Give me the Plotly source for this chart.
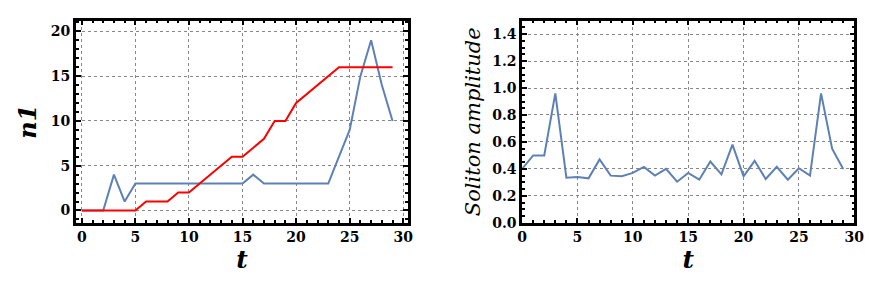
import plotly.graph_objects as go

t = list(range(30))
n1_blue = [0, 0, 0, 4, 1, 3, 3, 3, 3, 3, 3, 3, 3, 3, 3, 3, 4, 3, 3, 3, 3, 3, 3, 3, 6, 9, 15, 19, 14, 10]
n1_red = [0, 0, 0, 0, 0, 0, 1, 1, 1, 2, 2, 3, 4, 5, 6, 6, 7, 8, 10, 10, 12, 13, 14, 15, 16, 16, 16, 16, 16, 16]
amplitude = [0.40, 0.50, 0.50, 0.96, 0.335, 0.34, 0.33, 0.47, 0.35, 0.345, 0.37, 0.415, 0.35, 0.40, 0.305,
             0.37, 0.32, 0.455, 0.36, 0.58, 0.345, 0.46, 0.325, 0.415, 0.32, 0.405, 0.35, 0.96, 0.55, 0.40]
x_ticks = [0, 5, 10, 15, 20, 25, 30]
y1_ticks = [0, 5, 10, 15, 20]
y2_ticks = [0.0, 0.2, 0.4, 0.6, 0.8, 1.0, 1.2, 1.4]

BLUE = "#5E81B5"
RED = "#FF0000"
FONT = "DejaVu Serif"

fig = go.Figure()
fig.add_trace(go.Scatter(x=t, y=n1_blue, mode="lines", line=dict(color=BLUE, width=2), xaxis="x", yaxis="y"))
fig.add_trace(go.Scatter(x=t, y=n1_red, mode="lines", line=dict(color=RED, width=2), xaxis="x", yaxis="y"))
fig.add_trace(go.Scatter(x=t, y=amplitude, mode="lines", line=dict(color=BLUE, width=2), xaxis="x2", yaxis="y2"))

tickfont = dict(family=FONT, size=14, color="black", weight="bold")
t_title = dict(family=FONT, size=25, color="black", style="italic", weight="bold")
n_title = dict(family=FONT, size=24, color="black", style="italic", weight="bold")
amp_title = dict(family=FONT, size=21, color="black", style="italic")

minor_ticks = dict(ticks="inside", ticklen=3, tickwidth=1.5, tickcolor="black", showgrid=False)

common = dict(
    showline=True, linecolor="black", linewidth=2.5, mirror="allticks",
    ticks="inside", ticklen=5, tickwidth=2, tickcolor="black",
    showgrid=True, gridcolor="#888888", griddash="dot", gridwidth=1,
    zeroline=False, tickfont=tickfont,
)

fig.update_layout(
    width=872, height=286,
    margin=dict(l=0, r=0, t=0, b=0),
    paper_bgcolor="white", plot_bgcolor="white",
    showlegend=False,
    xaxis=dict(domain=[64/872, 402/872], anchor="y", range=[-0.55, 30.45],
               tickvals=x_ticks, ticktext=[str(v) for v in x_ticks],
               minor=dict(dtick=1, tick0=0, **minor_ticks),
               title=dict(text="t", font=t_title, standoff=0), **common),
    yaxis=dict(domain=[1-221/286, 1-13/286], anchor="x", range=[-1.38, 21.2],
               tickvals=y1_ticks, ticktext=[str(v) for v in y1_ticks],
               minor=dict(dtick=1, tick0=0, **minor_ticks),
               title=dict(text="n1", font=n_title, standoff=8), **common),
    xaxis2=dict(domain=[518/872, 856/872], anchor="y2", range=[0, 30],
                tickvals=x_ticks, ticktext=[str(v) for v in x_ticks],
                minor=dict(dtick=1, tick0=0, **minor_ticks),
                title=dict(text="t", font=t_title, standoff=0), **common),
    yaxis2=dict(domain=[1-221/286, 1-13/286], anchor="x2", range=[0, 1.5],
                tickvals=y2_ticks, ticktext=[f"{v:.1f}" for v in y2_ticks],
                minor=dict(dtick=0.05, tick0=0, **minor_ticks),
                title=dict(text="Soliton amplitude", font=amp_title, standoff=6), **common),
)

fig.write_html("out.html")
